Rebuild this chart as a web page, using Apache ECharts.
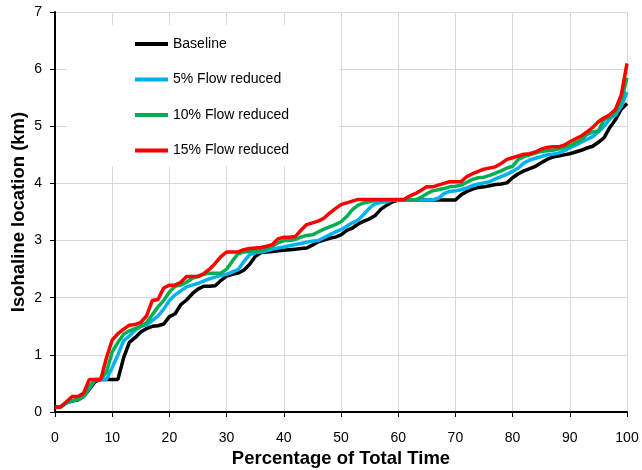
<!DOCTYPE html>
<html>
<head>
<meta charset="utf-8">
<script src="https://cdn.jsdelivr.net/npm/echarts@6/dist/echarts.min.js"></script>
<style>
  html, body { margin: 0; padding: 0; background: #fff; }
  #main { width: 642px; height: 470px; }
</style>
</head>
<body>
<div id="main"></div>
<script>
// isohaline location (km) at each whole percentage of total time, 0..100
const seriesNames = ['Baseline', '5% Flow reduced', '10% Flow reduced', '15% Flow reduced']
const seriesColors = ['#000000', '#00B0F0', '#00B050', '#FF0000']

const baseline = [
  0.08, 0.09, 0.16, 0.19, 0.21, 0.27, 0.40, 0.53, 0.57, 0.57,
  0.57, 0.57, 0.95, 1.22, 1.30, 1.40, 1.46, 1.50, 1.51, 1.54,
  1.67, 1.72, 1.88, 1.96, 2.07, 2.15, 2.20, 2.20, 2.21, 2.30,
  2.38, 2.41, 2.43, 2.48, 2.58, 2.72, 2.79, 2.80, 2.81, 2.82,
  2.83, 2.84, 2.85, 2.86, 2.87, 2.92, 2.98, 3.01, 3.04, 3.06,
  3.10, 3.18, 3.22, 3.29, 3.34, 3.38, 3.44, 3.55, 3.62, 3.68,
  3.71, 3.71, 3.71, 3.71, 3.71, 3.71, 3.71, 3.71, 3.71, 3.71,
  3.71, 3.80, 3.86, 3.90, 3.93, 3.94, 3.96, 3.98, 3.99, 4.01,
  4.10, 4.17, 4.22, 4.26, 4.30, 4.36, 4.42, 4.46, 4.48, 4.50,
  4.52, 4.55, 4.58, 4.62, 4.65, 4.72, 4.80, 4.98, 5.12, 5.30,
  5.40
]
const flow5 = [
  0.08, 0.09, 0.16, 0.19, 0.22, 0.27, 0.42, 0.56, 0.57, 0.57,
  0.78, 1.00, 1.25, 1.33, 1.43, 1.50, 1.52, 1.60, 1.68, 1.80,
  1.95, 2.05, 2.12, 2.19, 2.22, 2.25, 2.29, 2.33, 2.36, 2.39,
  2.41, 2.45, 2.49, 2.63, 2.75, 2.79, 2.80, 2.82, 2.85, 2.87,
  2.89, 2.91, 2.93, 2.95, 2.97, 2.99, 3.00, 3.05, 3.10, 3.15,
  3.19, 3.25, 3.31, 3.36, 3.46, 3.57, 3.65, 3.67, 3.68, 3.71,
  3.71, 3.71, 3.71, 3.71, 3.71, 3.71, 3.71, 3.74, 3.82, 3.86,
  3.87, 3.89, 3.92, 3.96, 3.99, 4.01, 4.03, 4.08, 4.12, 4.16,
  4.21, 4.27, 4.36, 4.41, 4.44, 4.47, 4.50, 4.51, 4.53, 4.57,
  4.62, 4.67, 4.72, 4.77, 4.82, 4.90, 5.00, 5.13, 5.20, 5.35,
  5.60
]
const flow10 = [
  0.08, 0.09, 0.17, 0.20, 0.22, 0.28, 0.45, 0.57, 0.57, 0.70,
  1.05, 1.22, 1.36, 1.42, 1.46, 1.50, 1.56, 1.70, 1.84, 1.95,
  2.10, 2.20, 2.22, 2.27, 2.34, 2.38, 2.41, 2.43, 2.43, 2.43,
  2.50, 2.64, 2.77, 2.80, 2.81, 2.82, 2.83, 2.86, 2.90, 2.96,
  3.00, 3.00, 3.02, 3.06, 3.09, 3.10, 3.15, 3.20, 3.24, 3.28,
  3.33, 3.42, 3.54, 3.62, 3.66, 3.68, 3.71, 3.71, 3.71, 3.71,
  3.71, 3.71, 3.71, 3.71, 3.76, 3.82, 3.87, 3.89, 3.91, 3.94,
  3.95, 3.97, 4.02, 4.07, 4.10, 4.11, 4.14, 4.18, 4.22, 4.27,
  4.30, 4.42, 4.47, 4.50, 4.53, 4.56, 4.57, 4.58, 4.60, 4.63,
  4.66, 4.71, 4.76, 4.86, 4.90, 4.92, 5.12, 5.16, 5.25, 5.45,
  5.85
]
const flow15 = [
  0.08, 0.09, 0.18, 0.27, 0.27, 0.33, 0.57, 0.57, 0.57, 0.95,
  1.26, 1.37, 1.45, 1.52, 1.53, 1.57, 1.68, 1.95, 1.97, 2.17,
  2.22, 2.22, 2.27, 2.37, 2.37, 2.37, 2.42, 2.50, 2.60, 2.72,
  2.80, 2.80, 2.80, 2.84, 2.86, 2.87, 2.88, 2.90, 2.93, 3.03,
  3.06, 3.06, 3.07, 3.18, 3.28, 3.31, 3.34, 3.39, 3.48, 3.56,
  3.63, 3.66, 3.69, 3.72, 3.72, 3.72, 3.72, 3.72, 3.72, 3.72,
  3.72, 3.72, 3.78, 3.82, 3.88, 3.94, 3.94, 3.97, 4.00, 4.03,
  4.03, 4.03, 4.12, 4.17, 4.21, 4.25, 4.27, 4.29, 4.35, 4.42,
  4.45, 4.48, 4.51, 4.52, 4.55, 4.60, 4.63, 4.64, 4.64, 4.67,
  4.73, 4.78, 4.83, 4.90, 4.98, 5.08, 5.15, 5.20, 5.30, 5.55,
  6.10
]
const allSeries = [baseline, flow5, flow10, flow15]

const xTicks = { min: 0, max: 100, step: 10 }
const yTicks = { min: 0, max: 7, step: 1 }

const chart = echarts.init(document.getElementById('main'), null, { renderer: 'canvas' })
const font = '"Liberation Sans", Arial, sans-serif'

const axisCommon = {
  axisLine: { show: true, onZero: false, lineStyle: { color: '#000', width: 2 } },
  axisTick: { show: true, inside: false, length: 5, lineStyle: { color: '#000', width: 1 } },
  splitLine: { show: true, lineStyle: { color: '#d9d9d9', width: 1 } },
  axisLabel: { color: '#000', fontSize: 14, fontFamily: font },
  nameTextStyle: { color: '#000', fontSize: 18.5, fontWeight: 'bold', fontFamily: font }
}

chart.setOption({
  animation: false,
  backgroundColor: '#fff',
  grid: { left: 55, right: 15, top: 12, bottom: 58, outerBoundsMode: 'none', containLabel: false },
  legend: {
    orient: 'vertical',
    left: 67,
    top: 25,
    backgroundColor: '#fff',
    padding: [12, 50, 9, 68],
    itemGap: 21.5,
    icon: 'rect',
    itemWidth: 33,
    itemHeight: 4,
    textStyle: { color: '#000', fontSize: 14, fontFamily: font },
    data: seriesNames
  },
  xAxis: Object.assign({}, axisCommon, {
    type: 'value',
    min: xTicks.min,
    max: xTicks.max,
    interval: xTicks.step,
    name: 'Percentage of Total Time',
    nameLocation: 'middle',
    nameGap: 33,
    axisLabel: Object.assign({}, axisCommon.axisLabel, { margin: 19 })
  }),
  yAxis: Object.assign({}, axisCommon, {
    type: 'value',
    min: yTicks.min,
    max: yTicks.max,
    interval: yTicks.step,
    name: 'Isohaline location (km)',
    nameLocation: 'middle',
    nameGap: 27,
    nameMoveOverlap: false,
    axisLabel: Object.assign({}, axisCommon.axisLabel, { margin: 13 })
  }),
  series: allSeries.map((vals, i) => ({
    name: seriesNames[i],
    type: 'line',
    symbol: 'none',
    color: seriesColors[i],
    lineStyle: { color: seriesColors[i], width: 3.5 },
    data: vals.map((v, p) => [p, v])
  }))
})
</script>
</body>
</html>
